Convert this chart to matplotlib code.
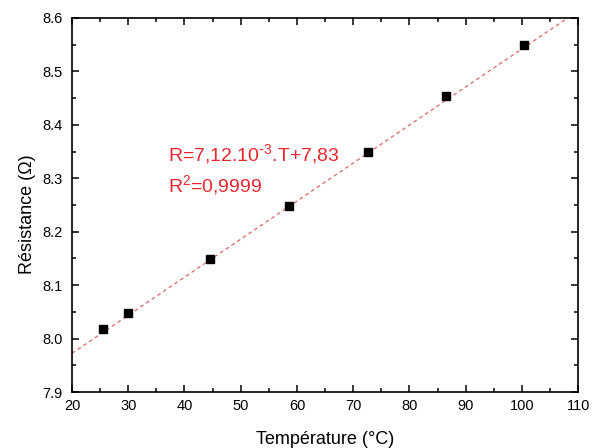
import numpy as np
import matplotlib.pyplot as plt
from matplotlib.ticker import MultipleLocator

plt.rcParams['font.family'] = ['Liberation Sans', 'DejaVu Sans']
plt.rcParams['mathtext.default'] = 'regular'

# measured points
temperature = [25.5, 30.0, 44.5, 58.6, 72.6, 86.5, 100.4]
resistance = [8.018, 8.048, 8.148, 8.248, 8.350, 8.453, 8.550]

# linear fit shown on the chart
slope = 7.12e-3
intercept = 7.83
fit_range = [20, 110]

eq_text = r'R=7,12.10$^{\text{-}3}$.T+7,83'
r2_text = r'R$^{2}$=0,9999'

fig = plt.figure(figsize=(5.92, 4.48), dpi=100)
ax = fig.add_axes([0.1216, 0.125, 0.855, 0.835])

tf = np.array(fit_range, dtype=float)
ax.plot(tf, slope * tf + intercept, color='#e06666', lw=0.9,
        dashes=(3, 2.5), zorder=1)
ax.plot(temperature, resistance, 's', color='black', markersize=6, zorder=2)

ax.text(37.0, 8.333, eq_text, color='#e8262d', fontsize=14, va='baseline')
ax.text(37.0, 8.275, r2_text, color='#e8262d', fontsize=14, va='baseline')

ax.set_xlim(20, 110)
ax.set_ylim(7.9, 8.6)
ax.xaxis.set_major_locator(MultipleLocator(10))
ax.xaxis.set_minor_locator(MultipleLocator(5))
ax.yaxis.set_major_locator(MultipleLocator(0.1))
ax.yaxis.set_minor_locator(MultipleLocator(0.05))
ax.tick_params(which='both', direction='in', top=True, right=True,
               width=1.1, labelsize=10.5)
ax.tick_params(axis='x', pad=5)
ax.tick_params(axis='y', pad=7)
ax.tick_params(which='major', length=5)
ax.tick_params(which='minor', length=3)
for s in ax.spines.values():
    s.set_linewidth(1.2)

ax.set_xlabel('Température (°C)', fontsize=13, labelpad=13)
ax.set_ylabel('Résistance (Ω)', fontsize=13)
ax.yaxis.set_label_coords(-0.072, 0.475)

fig.savefig('out.png', dpi=100)
